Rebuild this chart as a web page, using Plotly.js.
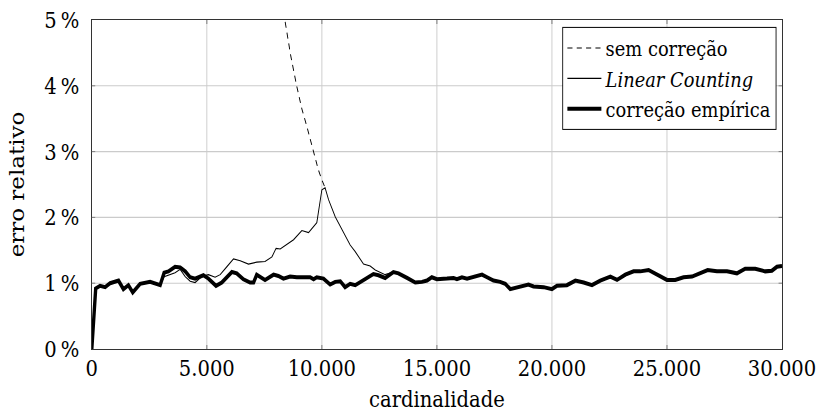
<!DOCTYPE html>
<html>
<head>
<meta charset="utf-8">
<script src="https://cdn.plot.ly/plotly-3.0.1.min.js"></script>
<style>
  html, body { margin: 0; padding: 0; background: #fff; overflow: hidden; }
  #wrap { width: 817px; height: 412px; overflow: hidden; }
  /* the figure is laid out wider and narrowed horizontally, giving tall, narrow lettering */
  #chart { width: 961px; height: 412px; transform: scaleX(0.85); transform-origin: 0 0; }
</style>
</head>
<body>
<div id="wrap"><div id="chart"></div></div>
<script>
// Relative error (%) versus cardinality for three estimators.

// "correção empírica" (empirically corrected estimate)
const empiricaX = [0, 170, 360, 580, 800, 1160, 1375, 1590, 1780, 2100, 2535, 2970, 3145, 3330, 3620, 3840,
  4060, 4275, 4490, 4850, 5070, 5400, 5650, 6090, 6300, 6590, 6880, 7030, 7170, 7530, 7900, 8110, 8330,
  8620, 8910, 9490, 9640, 9780, 10070, 10360, 10580, 10800, 11010, 11230, 11450, 11810, 12240, 12460,
  12750, 13110, 13330, 13700, 14060, 14350, 14570, 14780, 15000, 15440, 15720, 15870, 16090, 16310,
  16590, 16960, 17180, 17460, 17750, 17970, 18190, 18620, 18980, 19200, 19640, 20000, 20220, 20650,
  21020, 21380, 21740, 22100, 22540, 22830, 23190, 23550, 23840, 24200, 24570, 25000, 25360, 25720,
  26090, 26450, 26770, 27170, 27610, 28040, 28400, 28840, 29270, 29560, 29780, 30000];
const empiricaY = [0, 0.92, 0.96, 0.94, 1.00, 1.04, 0.91, 0.97, 0.86, 0.99, 1.02, 0.97, 1.16, 1.18, 1.25, 1.24,
  1.18, 1.09, 1.07, 1.12, 1.07, 0.96, 1.01, 1.17, 1.15, 1.06, 1.01, 1.01, 1.13, 1.05, 1.13, 1.11, 1.07,
  1.10, 1.09, 1.09, 1.06, 1.09, 1.07, 0.98, 1.02, 1.03, 0.94, 0.99, 0.97, 1.04, 1.14, 1.12,
  1.08, 1.17, 1.15, 1.08, 1.01, 1.02, 1.04, 1.09, 1.06, 1.07, 1.08, 1.06, 1.09, 1.07,
  1.10, 1.13, 1.09, 1.04, 1.02, 0.99, 0.91, 0.95, 0.98, 0.95, 0.94, 0.91, 0.96, 0.97,
  1.04, 1.01, 0.97, 1.04, 1.10, 1.05, 1.13, 1.18, 1.18, 1.20, 1.13, 1.05, 1.05, 1.09,
  1.10, 1.15, 1.20, 1.18, 1.18, 1.15, 1.22, 1.22, 1.18, 1.19, 1.25, 1.26];

// "Linear Counting"
const linearX = [0, 170, 360, 580, 800, 1160, 1375, 1590, 1780, 2100, 2535, 2970, 3145, 3620, 3840, 4060,
  4275, 4490, 4780, 5070, 5360, 5580, 5870, 6160, 6450, 6810, 7170, 7530, 7830, 8010, 8190, 8550, 8770,
  9130, 9420, 9780, 10000, 10140, 10290, 10580, 10940, 11230, 11450, 11810, 12100, 12320, 12750, 13110];
const linearY = [0, 0.92, 0.96, 0.94, 1.00, 1.04, 0.91, 0.97, 0.86, 0.99, 1.02, 0.97, 1.10, 1.16, 1.21, 1.10,
  1.03, 1.01, 1.10, 1.13, 1.09, 1.13, 1.25, 1.37, 1.34, 1.29, 1.32, 1.33, 1.40, 1.53, 1.52, 1.61, 1.66,
  1.80, 1.77, 1.92, 2.42, 2.45, 2.27, 2.01, 1.76, 1.58, 1.48, 1.29, 1.26, 1.20, 1.13, 1.17];

// "sem correção" (raw estimate, no correction)
const semX = [8250, 8410, 8650, 8910, 9130, 9350, 9640, 9850, 10000, 10140];
const semY = [5.30, 4.96, 4.45, 3.99, 3.65, 3.38, 2.98, 2.72, 2.57, 2.45];

const xTickVals = [0, 5000, 10000, 15000, 20000, 25000, 30000];
const xTickText = ['0', '5.000', '10.000', '15.000', '20.000', '25.000', '30.000'];
const yTickVals = [0, 1, 2, 3, 4, 5];
const yTickText = ['0\u2009%', '1\u2009%', '2\u2009%', '3\u2009%', '4\u2009%', '5\u2009%'];

const FONT = '"DejaVu Serif", serif';
const FS = 23;

const traces = [
  { x: semX, y: semY, mode: 'lines', name: 'sem correção',
    line: { color: '#000', width: 1.1, dash: '6px,5px' } },
  { x: linearX, y: linearY, mode: 'lines', name: '<i>Linear Counting</i>',
    line: { color: '#000', width: 1.1 } },
  { x: empiricaX, y: empiricaY, mode: 'lines', name: 'correção empírica',
    line: { color: '#000', width: 4 } }
];

const axisCommon = {
  showline: true, linecolor: '#333', linewidth: 1.2, mirror: 'ticks',
  ticks: 'inside', ticklen: 4, tickcolor: '#777', tickwidth: 1,
  showgrid: true, gridcolor: '#cbcbcb', gridwidth: 1.1,
  zeroline: false, tickfont: { family: FONT, size: FS, color: '#000' }
};

const layout = {
  width: 961, height: 412,
  margin: { l: 108, r: 41, t: 20, b: 63 },
  paper_bgcolor: '#fff', plot_bgcolor: '#fff',
  font: { family: FONT, size: FS, color: '#000' },
  showlegend: true,
  legend: {
    x: 0.992, y: 0.979, xanchor: 'right', yanchor: 'top',
    bgcolor: '#fff', bordercolor: '#000', borderwidth: 1,
    font: { family: FONT, size: 21, color: '#000' },
    itemwidth: 40, traceorder: 'normal'
  },
  xaxis: Object.assign({}, axisCommon, {
    range: [0, 30000], tickmode: 'array', tickvals: xTickVals, ticktext: xTickText,
    ticklabelstandoff: -2,
    title: { text: 'cardinalidade', font: { family: FONT, size: FS, color: '#000' }, standoff: 14 }
  }),
  yaxis: Object.assign({}, axisCommon, {
    range: [0, 5], tickmode: 'array', tickvals: yTickVals, ticktext: yTickText,
    ticklabelstandoff: 9,
    title: { text: 'erro relativo', font: { family: FONT, size: FS, color: '#000' }, standoff: 16 }
  })
};

Plotly.newPlot('chart', traces, layout, { displayModeBar: false, staticPlot: true });
</script>
</body>
</html>
